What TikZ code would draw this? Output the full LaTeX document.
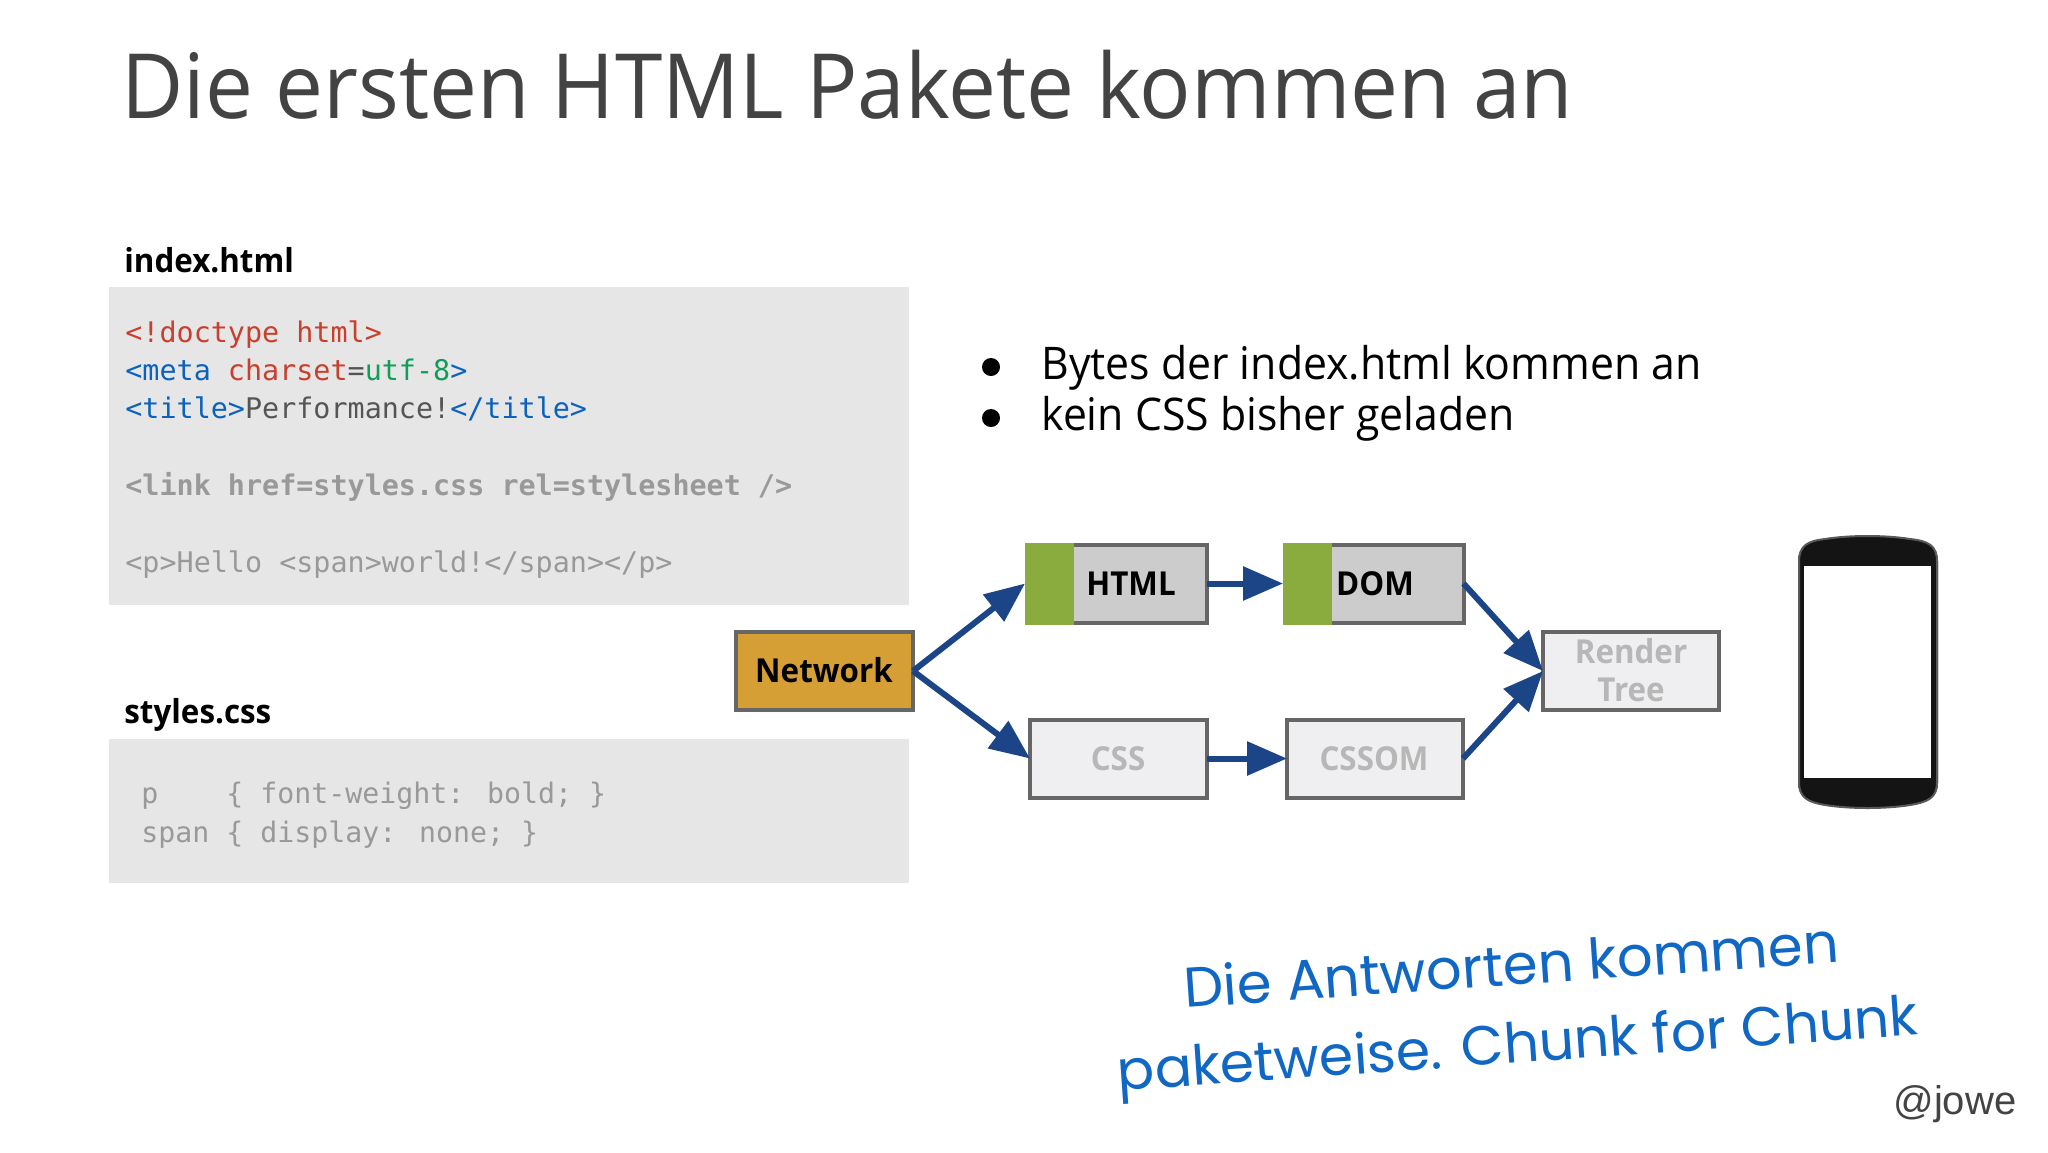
\documentclass[tikz,border=0pt]{standalone}
\usepackage{fontspec}
\setmainfont[FakeStretch=0.95]{Open Sans}
\newfontfamily\codefont{DejaVu Sans Mono}
\newfontfamily\handfont{Poppins}
\newfontfamily\sigfont{Liberation Sans}
\usetikzlibrary{arrows.meta}
\definecolor{titlegray}{HTML}{434343}
\definecolor{panel}{HTML}{E6E6E7}
\definecolor{edge}{HTML}{666666}
\definecolor{netfill}{HTML}{D69F36}
\definecolor{activefill}{HTML}{CCCCCC}
\definecolor{idlefill}{HTML}{EFEFF1}
\definecolor{idletext}{HTML}{B7B7B7}
\definecolor{leaf}{HTML}{8AAB3E}
\definecolor{flow}{HTML}{1C4587}
\definecolor{cRed}{HTML}{C8402D}
\definecolor{cBlue}{HTML}{0B62BE}
\definecolor{cGreen}{HTML}{0F9D58}
\definecolor{cDark}{HTML}{555555}
\definecolor{cFade}{HTML}{999999}
\definecolor{hand}{HTML}{1068C4}
\definecolor{phonebody}{HTML}{141414}
\tikzset{
  x=0.5pt,y=-0.5pt,
  panelbox/.style={fill=panel,draw=none,inner sep=0,outer sep=0,minimum width=800*0.5pt},
  stagebox/.style={draw=edge,line width=2pt,inner sep=0,outer sep=0,minimum height=78*0.5pt},
  activebox/.style={stagebox,fill=activefill},
  idlebox/.style={stagebox,fill=idlefill},
  stagetext/.style={anchor=base,inner sep=0,font=\bfseries\fontsize{16.5}{20}\selectfont},
  strip/.style={fill=leaf,draw=none,inner sep=0,outer sep=0,minimum width=49*0.5pt,minimum height=82*0.5pt},
  flowarrow/.style={draw=flow,line width=3pt,-{Triangle[length=20pt,width=16.5pt]}},
  codeline/.style={anchor=base west,inner sep=0,font=\codefont\fontsize{14.2}{17}\selectfont},
  csscode/.style={anchor=base west,inner sep=0,font=\codefont\fontsize{14.12}{17}\selectfont,text=cFade},
  filename/.style={anchor=base west,inner sep=0,font=\bfseries\fontsize{16.5}{20}\selectfont,text=black},
  bulletline/.style={anchor=base west,inner sep=0,font=\fontsize{22.5}{27}\selectfont,text=black},
  handline/.style={inner sep=0,font=\handfont\fontsize{28}{34}\selectfont,text=hand,rotate=4},
}
\begin{document}
\begin{tikzpicture}
\useasboundingbox (0,0) rectangle (2048,1152);
\fill[white] (0,0) rectangle (2048,1152);

\node[anchor=base west,inner sep=0,text=titlegray,font=\fontsize{45}{54}\selectfont] (title) at (121,118) {Die ersten HTML Pakete kommen an};

% code panels
\node[filename] (indexname) at (124,272) {index.html};
\node[panelbox,minimum height=318*0.5pt] (indexpanel) at (509,446) {};
\node[codeline,text=cRed] (l1) at (125,342) {<!doctype html>};
\node[codeline] (l2) at (125,380) {\textcolor{cBlue}{<meta} \textcolor{cRed}{charset}\textcolor{cDark}{=}\textcolor{cGreen}{utf-8}\textcolor{cBlue}{>}};
\node[codeline] (l3) at (125,418) {\textcolor{cBlue}{<title>}\textcolor{cDark}{Performance!}\textcolor{cBlue}{</title>}};
\node[codeline,text=cFade,font=\codefont\bfseries\fontsize{14.2}{17}\selectfont] (l4) at (125,495) {<link href=styles.css rel=stylesheet />};
\node[codeline,text=cFade] (l5) at (125,572) {<p>Hello <span>world!</span></p>};

\node[filename] (cssname) at (124,723) {styles.css};
\node[panelbox,minimum height=144*0.5pt] (csspanel) at (509,811) {};
\node[csscode] (c1) at (141,803) {p~~~~\{ font-weight: bold; \}};
\node[csscode] (c2) at (141,842) {span \{ display: none; \}};

% bullets
\node[bulletline] (b1) at (1041,379) {Bytes der index.html kommen an};
\node[bulletline] (b2) at (1041,430) {kein CSS bisher geladen};
\node[circle,fill=black,inner sep=0,minimum size=9pt] (d1) at (991,367) {};
\node[circle,fill=black,inner sep=0,minimum size=9pt] (d2) at (991,418) {};

% stages
\node[stagebox,fill=netfill,minimum width=177*0.5pt] (net) at (824.5,671) {};
\node[activebox,minimum width=180*0.5pt] (html) at (1117,583.5) {};
\node[strip,anchor=west] (htmlstrip) at (1025,583.5) {};
\node[activebox,minimum width=179*0.5pt] (dom) at (1374,583.5) {};
\node[strip,anchor=west] (domstrip) at (1283,583.5) {};
\node[idlebox,minimum width=177*0.5pt] (css) at (1118.5,758.5) {};
\node[idlebox,minimum width=176*0.5pt] (cssom) at (1375,758.5) {};
\node[idlebox,minimum width=176*0.5pt] (render) at (1631,671) {};

\node[stagetext] (nettext) at (824,682) {Network};
\node[stagetext] (htmltext) at (1131,595) {HTML};
\node[stagetext] (domtext) at (1375,595) {DOM};
\node[stagetext,text=idletext] (csstext) at (1118,770) {CSS};
\node[stagetext,text=idletext] (cssomtext) at (1374,770) {CSSOM};
\node[stagetext,text=idletext] (rendertext1) at (1631,663) {Render};
\node[stagetext,text=idletext] (rendertext2) at (1631,701) {Tree};

\draw[flowarrow] (net.east) -- (htmlstrip.west);
\draw[flowarrow] (net.east) -- (css.west);
\draw[flowarrow] (html.east) -- (domstrip.west);
\draw[flowarrow] (css.east) -- (cssom.west);
\draw[flowarrow] (dom.east) -- (render.west);
\draw[flowarrow] (cssom.east) -- (render.west);

% phone
\fill[phonebody] (1798,562) .. controls (1798,545) and (1808,541) .. (1825,539)
  .. controls (1850,535) and (1885,535) .. (1910,539)
  .. controls (1928,541) and (1938,545) .. (1938,562)
  -- (1938,782) .. controls (1938,798) and (1928,802) .. (1910,805)
  .. controls (1885,809) and (1850,809) .. (1825,805)
  .. controls (1808,802) and (1798,798) .. (1798,782) -- cycle;
\draw[black!65,line width=1pt] (1799,562) .. controls (1799,545) and (1808,541) .. (1825,539)
  .. controls (1850,535) and (1885,535) .. (1910,539)
  .. controls (1928,541) and (1937,545) .. (1937,562)
  -- (1937,782) .. controls (1937,798) and (1928,802) .. (1910,805)
  .. controls (1885,809) and (1850,809) .. (1825,805)
  .. controls (1808,802) and (1799,798) .. (1799,782) -- cycle;
\fill[white] (1804,566) rectangle (1931,778);

% handwriting
\node[handline] (h1) at (1511,964) {Die Antworten kommen};
\node[handline,font=\handfont\fontsize{27.6}{34}\selectfont] (h2) at (1518,1049) {paketweise. Chunk for Chunk};

\node[anchor=base west,inner sep=0,text=titlegray,font=\sigfont\fontsize{20}{24}\selectfont] (sig) at (1893,1114) {@jowe};
\end{tikzpicture}
\end{document}
